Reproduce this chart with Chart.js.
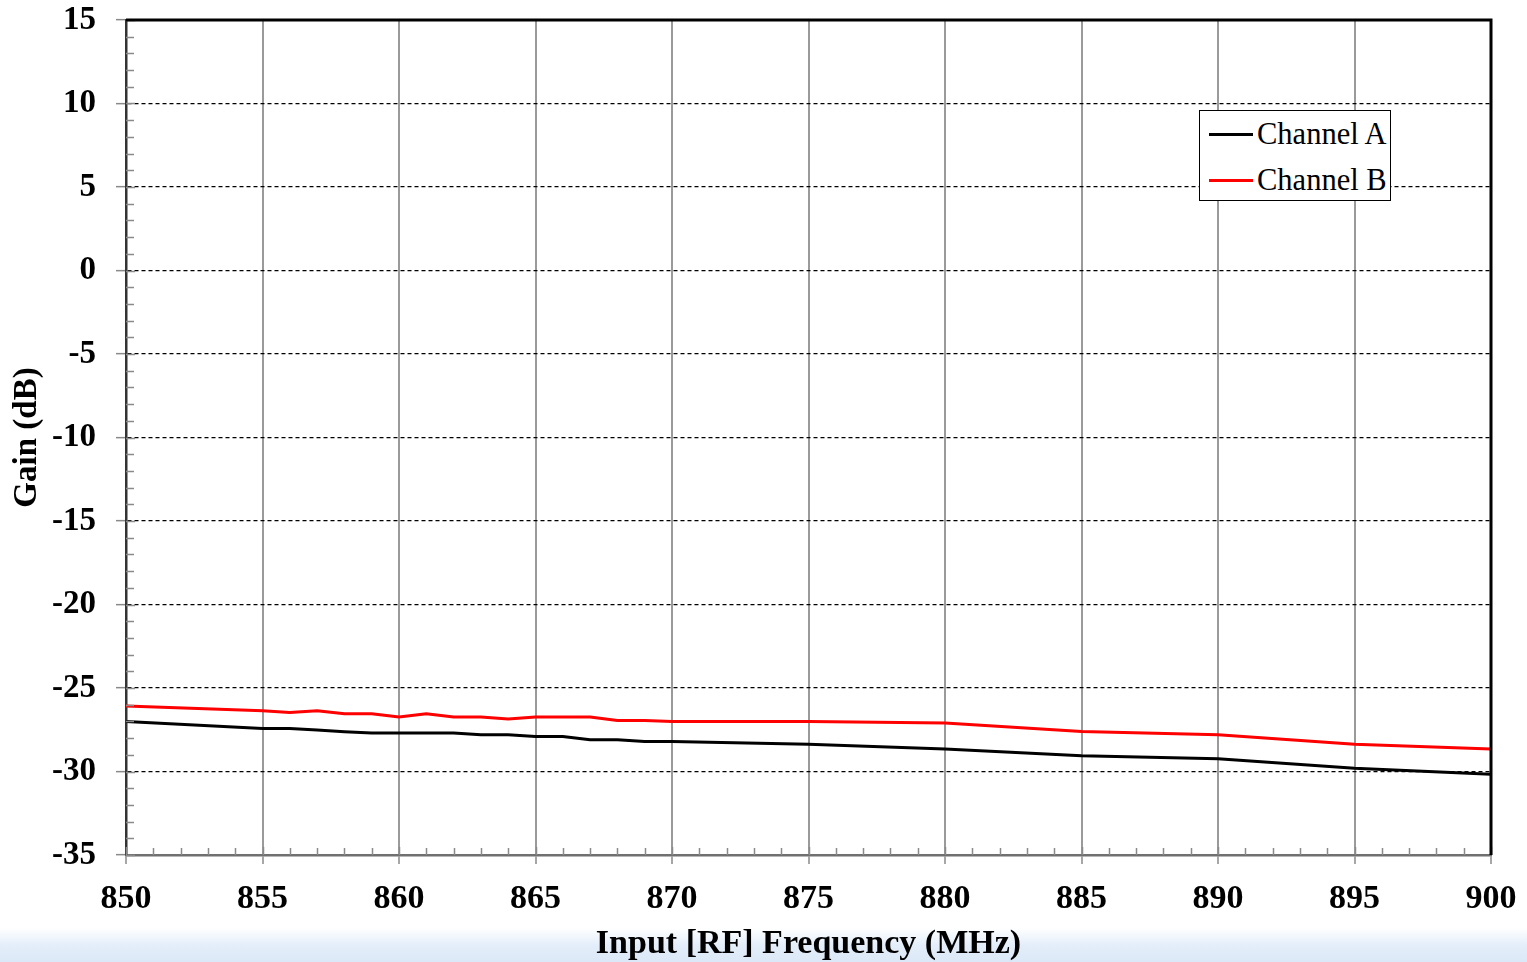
<!DOCTYPE html>
<html>
<head>
<meta charset="utf-8">
<script src="https://cdn.jsdelivr.net/npm/chart.js@4/dist/chart.umd.min.js"></script>
<style>
  html, body { margin: 0; padding: 0; }
  body {
    width: 1527px; height: 962px; overflow: hidden; position: relative;
    background: linear-gradient(to bottom, #ffffff 0px, #ffffff 928px, #e4eefa 945px, #dbe8f7 962px);
  }
  #wrap { position: absolute; left: 0; top: 0; width: 1527px; height: 962px; }
  #legend {
    position: absolute; left: 1199px; top: 110px; width: 190px; height: 89px;
    border: 1.5px solid #000; background: #fff;
    font-family: "Liberation Serif", "Times New Roman", serif; font-size: 30.5px; color: #000;
  }
  .row { position: absolute; left: 0; height: 34px; line-height: 34px; white-space: nowrap; }
  .sw { position: absolute; left: 9px; top: 16px; width: 44px; height: 3px; }
  .lab { position: absolute; left: 57px; top: 0; }
</style>
</head>
<body>
<div id="wrap"><canvas id="c" width="1527" height="962"></canvas></div>
<div id="legend">
  <div class="row" style="top:6px"><div class="sw" style="background:#000"></div><div class="lab" id="l0"></div></div>
  <div class="row" style="top:52px"><div class="sw" style="background:#ff0000"></div><div class="lab" id="l1"></div></div>
</div>
<script>
// ---- data ----
const frequencies = [850, 855, 856, 857, 858, 859, 860, 861, 862, 863, 864, 865, 866, 867, 868, 869, 870, 875, 880, 885, 890, 895, 900];
const channelA = [-27.0, -27.42, -27.42, -27.52, -27.62, -27.7, -27.7, -27.7, -27.7, -27.8, -27.8, -27.9, -27.9, -28.1, -28.1, -28.2, -28.2, -28.37, -28.65, -29.05, -29.23, -29.8, -30.17];
const channelB = [-26.08, -26.36, -26.46, -26.36, -26.54, -26.54, -26.74, -26.54, -26.74, -26.74, -26.86, -26.74, -26.74, -26.74, -26.94, -26.94, -27.0, -27.0, -27.1, -27.6, -27.8, -28.37, -28.65];
const seriesNames = ["Channel A", "Channel B"];
const xTicks = [850, 855, 860, 865, 870, 875, 880, 885, 890, 895, 900];
const yTicks = [15, 10, 5, 0, -5, -10, -15, -20, -25, -30, -35];
const xTitle = "Input [RF] Frequency (MHz)";
const yTitle = "Gain (dB)";

document.getElementById('l0').textContent = seriesNames[0];
document.getElementById('l1').textContent = seriesNames[1];

const FONT = '"Liberation Serif", "Times New Roman", serif';

const minorTicks = {
  id: 'minorTicks',
  afterDatasetsDraw(chart) {
    const {ctx, chartArea: ca, scales: {x, y}} = chart;
    ctx.save();
    ctx.strokeStyle = '#8a8a8a';
    ctx.lineWidth = 1.5;
    ctx.beginPath();
    for (let v = y.min; v <= y.max; v += 1) {
      const py = Math.round(y.getPixelForValue(v)) + 0.5;
      const len = (v % 5 === 0) ? 9 : 8;
      ctx.moveTo(ca.left, py); ctx.lineTo(ca.left + len, py);
    }
    for (let v = x.min; v <= x.max; v += 1) {
      const px = Math.round(x.getPixelForValue(v)) + 0.5;
      const len = (v % 5 === 0) ? 8 : 7;
      ctx.moveTo(px, ca.bottom); ctx.lineTo(px, ca.bottom - len);
    }
    ctx.stroke();
    // top & right border
    ctx.strokeStyle = '#000';
    ctx.lineWidth = 3;
    ctx.beginPath();
    ctx.moveTo(ca.left, ca.top);
    ctx.lineTo(ca.right, ca.top);
    ctx.lineTo(ca.right, ca.bottom);
    ctx.stroke();
    ctx.restore();
  }
};

new Chart(document.getElementById('c'), {
  type: 'line',
  data: {
    datasets: [
      { label: seriesNames[0], data: frequencies.map((f, i) => ({x: f, y: channelA[i]})),
        borderColor: '#000000', backgroundColor: '#000000', borderWidth: 3, pointRadius: 0, tension: 0 },
      { label: seriesNames[1], data: frequencies.map((f, i) => ({x: f, y: channelB[i]})),
        borderColor: '#ff0000', backgroundColor: '#ff0000', borderWidth: 3, pointRadius: 0, tension: 0 }
    ]
  },
  options: {
    responsive: false,
    animation: false,
    layout: { padding: { left: 0, right: 36, top: 20, bottom: 0 } },
    plugins: { legend: { display: false }, tooltip: { enabled: false } },
    scales: {
      x: {
        type: 'linear', min: 850, max: 900,
        afterBuildTicks: s => { s.ticks = xTicks.map(v => ({value: v})); },
        afterFit: s => { s.height = 107; s.paddingLeft = 0; s.paddingRight = 0; },
        ticks: { color: '#000', padding: 15, font: { family: FONT, size: 34, weight: 'bold' }, maxRotation: 0 },
        grid: { color: '#9a9a9a', lineWidth: 2, drawTicks: true, tickLength: 9, tickColor: '#8a8a8a', tickWidth: 1.5 },
        border: { display: true, color: '#707070', width: 2.5 },
        title: { display: true, text: xTitle, color: '#000', font: { family: FONT, size: 34, weight: 'bold' }, padding: { top: 0, bottom: -3 } }
      },
      y: {
        type: 'linear', min: -35, max: 15,
        afterBuildTicks: s => { s.ticks = yTicks.map(v => ({value: v})); },
        afterFit: s => { s.width = 126; s.paddingTop = 0; s.paddingBottom = 0; },
        ticks: { color: '#000', padding: 20, font: { family: FONT, size: 33, weight: 'bold' } },
        grid: { color: '#000', lineWidth: 1.3, drawTicks: true, tickLength: 10, tickColor: '#8a8a8a', tickWidth: 1.5, tickBorderDash: [] },
        border: { display: true, color: '#333', width: 2.5, dash: [4, 3] },
        title: { display: true, text: yTitle, color: '#000', font: { family: FONT, size: 33, weight: 'bold' }, padding: { top: 8, bottom: 0 } }
      }
    }
  },
  plugins: [minorTicks]
});
</script>
</body>
</html>
